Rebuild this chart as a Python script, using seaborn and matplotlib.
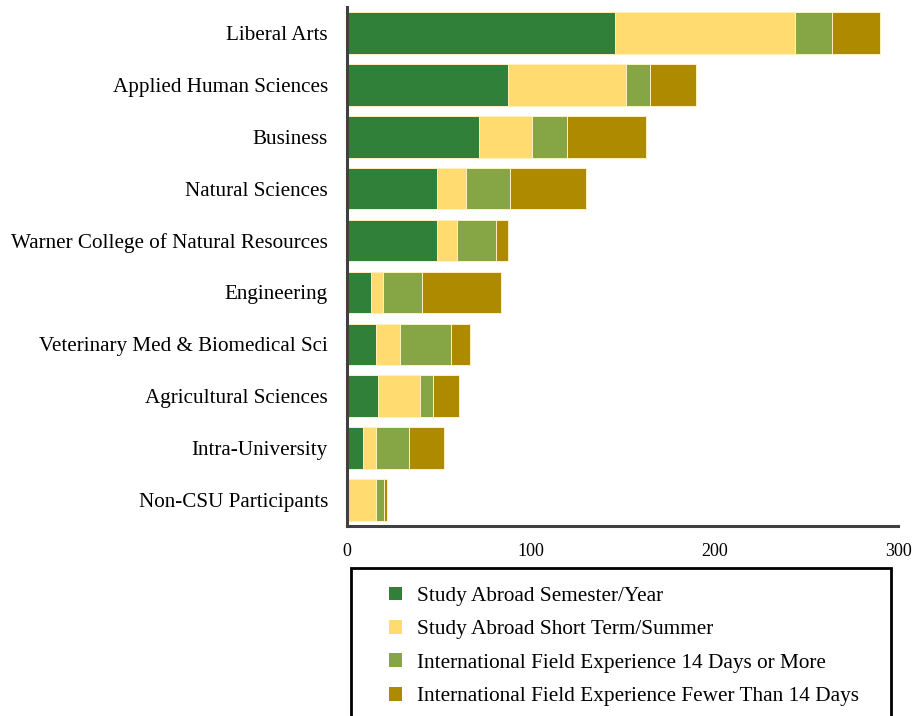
import numpy as np
import pandas as pd
import seaborn as sns
import matplotlib.pyplot as plt
from matplotlib.patches import Patch, Rectangle

colleges = [
    "Liberal Arts",
    "Applied Human Sciences",
    "Business",
    "Natural Sciences",
    "Warner College of Natural Resources",
    "Engineering",
    "Veterinary Med & Biomedical Sci",
    "Agricultural Sciences",
    "Intra-University",
    "Non-CSU Participants",
]
semester_year = [146, 88, 72, 49, 49, 13, 16, 17, 9, 0]
short_term = [98, 64, 29, 16, 11, 7, 13, 23, 7, 16]
field_14_plus = [20, 13, 19, 24, 21, 21, 28, 7, 18, 4.5]
field_under_14 = [26, 25, 43, 41, 7, 43, 10, 14, 19, 1.5]

series = [
    "Study Abroad Semester/Year",
    "Study Abroad Short Term/Summer",
    "International Field Experience 14 Days or More",
    "International Field Experience Fewer Than 14 Days",
]
colors = ["#31803A", "#FFDB70", "#86A545", "#AD8A00"]

sns.set_style("white")
plt.rcParams["font.family"] = ["Liberation Serif", "DejaVu Serif"]
plt.rcParams["text.color"] = "black"
plt.rcParams["xtick.color"] = "black"
plt.rcParams["ytick.color"] = "black"

df = pd.DataFrame({
    "college": colleges,
    series[0]: semester_year,
    series[1]: short_term,
    series[2]: field_14_plus,
    series[3]: field_under_14,
})
# cumulative sums so we can overlay bars to get a stacked look
cum = df[series].cumsum(axis=1)
cum["college"] = df["college"]

fig = plt.figure(figsize=(9.14, 7.16), dpi=100)
ax = fig.add_axes([346.7 / 914, 1 - 526 / 716, (898 - 346.7) / 914, (526 - 7) / 716])

# draw largest cumulative first, smaller ones on top
for name, col in reversed(list(zip(series, colors))):
    sns.barplot(data=cum, x=name, y="college", order=colleges, color=col,
                saturation=1, width=0.8, edgecolor="#FFF0C0", linewidth=0.7, ax=ax)

ax.set_xlim(0, 300)
ax.set_ylim(9.5, -0.5)
ax.set_xticks([0, 100, 200, 300])
ax.set_xlabel("")
ax.set_ylabel("")
ax.tick_params(axis="y", length=0, pad=13.5, labelsize=15.2)
ax.tick_params(axis="x", length=0, pad=12, labelsize=13)
for s in ["top", "right"]:
    ax.spines[s].set_visible(False)
for s in ["left", "bottom"]:
    ax.spines[s].set_color("#404040")
    ax.spines[s].set_linewidth(2.2)

# legend box (runs off the bottom of the figure)
box = Rectangle((351 / 914, 1 - 722 / 716), 540 / 914, (722 - 568) / 716,
                transform=fig.transFigure, fill=False, edgecolor="black",
                linewidth=2, clip_on=False)
fig.patches.append(box)

handles = [Patch(facecolor=c, edgecolor="none") for c in colors]
fig.legend(handles, series, loc="upper left", frameon=False,
           bbox_to_anchor=(378 / 914, 1 - 576 / 716), borderpad=0,
           fontsize=15.3, handlelength=0.62, handleheight=0.62,
           handletextpad=0.72, labelspacing=0.66)

fig.savefig("out.png", dpi=100)
